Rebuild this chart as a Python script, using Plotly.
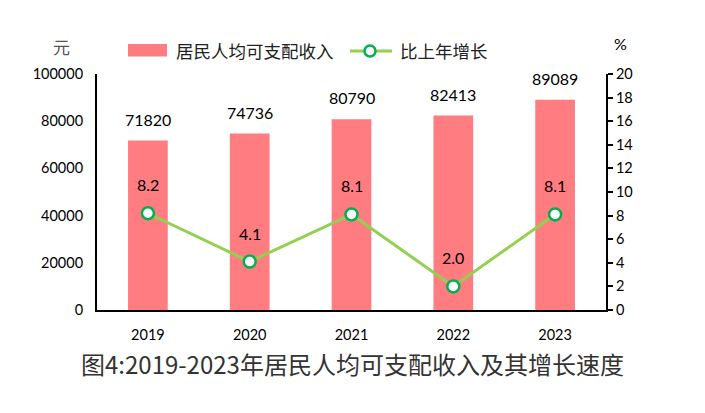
import plotly.graph_objects as go

years = ["2019", "2020", "2021", "2022", "2023"]
income = [71820, 74736, 80790, 82413, 89089]
growth = [8.2, 4.1, 8.1, 2.0, 8.1]
left_ticks = [0, 20000, 40000, 60000, 80000, 100000]
right_ticks = [0, 2, 4, 6, 8, 10, 12, 14, 16, 18, 20]
bar_name = "居民人均可支配收入"
line_name = "比上年增长"
title_text = "图4:2019-2023年居民人均可支配收入及其增长速度"

W, H = 705, 413
L, R, T, B = 97, 99, 74, 103
PW, PH = W - L - R, H - T - B


def px(x):
    return (x - L) / PW


def py(y):
    return (H - B - y) / PH


num_font = "Lato, Open Sans, sans-serif"
cjk = "Noto Sans CJK SC"
tick_font = dict(family=num_font, size=14.5, color="black")
BAR_COLOR = "#FF7C80"
LINE_COLOR = "#92D050"
MARK_COLOR = "#00B050"

fig = go.Figure()
fig.add_trace(go.Bar(
    x=years, y=income, name=bar_name,
    marker=dict(color=BAR_COLOR, line=dict(width=0)),
    showlegend=False,
))
fig.add_trace(go.Scatter(
    x=years, y=growth, name=line_name, yaxis="y2",
    mode="lines+markers",
    line=dict(color=LINE_COLOR, width=3),
    marker=dict(size=12, color="white", line=dict(color=MARK_COLOR, width=2.5)),
    showlegend=False, cliponaxis=False,
))

annotations = []
# category axis: annotations located by category index
for i, v in enumerate(income):
    annotations.append(dict(x=i, y=v, xref="x", yref="y", text=str(v),
                            showarrow=False, yanchor="middle", yshift=21.5,
                            font=dict(family=num_font, size=16, color="black")))
for i, v in enumerate(growth):
    annotations.append(dict(x=i, y=v, xref="x", yref="y2", text=f"{v:.1f}",
                            showarrow=False, yanchor="middle", yshift=28.5,
                            font=dict(family=num_font, size=16, color="black")))

# axis unit labels, legend texts, caption
annotations += [
    dict(text="元", x=px(61), y=py(46), xref="paper", yref="paper",
         showarrow=False, xanchor="center", yanchor="middle",
         font=dict(family=cjk, size=17, color="#555")),
    dict(text="%", x=px(620), y=py(44), xref="paper", yref="paper",
         showarrow=False, xanchor="center", yanchor="middle",
         font=dict(family=num_font, size=16, color="black")),
    dict(text=bar_name, x=px(174), y=py(50), xref="paper", yref="paper",
         showarrow=False, xanchor="left", yanchor="middle",
         font=dict(family=cjk, size=17.5, color="#222")),
    dict(text=line_name, x=px(398), y=py(50), xref="paper", yref="paper",
         showarrow=False, xanchor="left", yanchor="middle",
         font=dict(family=cjk, size=17.5, color="#222")),
    dict(text=title_text, x=px(352), y=py(363), xref="paper", yref="paper",
         showarrow=False, xanchor="center", yanchor="middle",
         font=dict(family=cjk, size=24, color="#333")),
]

shapes = [
    dict(type="rect", xref="paper", yref="paper", x0=px(128), x1=px(167),
         y0=py(56.5), y1=py(44), fillcolor=BAR_COLOR, line=dict(width=0)),
    dict(type="line", xref="paper", yref="paper", x0=px(350), x1=px(392),
         y0=py(51), y1=py(51), line=dict(color=LINE_COLOR, width=3)),
    dict(type="circle", xref="paper", yref="paper", x0=px(364.5), x1=px(375.5),
         y0=py(56.5), y1=py(45.5), fillcolor="white",
         line=dict(color=MARK_COLOR, width=2.5)),
]

fig.update_layout(
    width=W, height=H,
    margin=dict(l=L, r=R, t=T, b=B, autoexpand=False),
    plot_bgcolor="white", paper_bgcolor="white",
    bargap=0.61,
    showlegend=False,
    xaxis=dict(type="category", range=[-0.5, len(years) - 0.5],
               showline=True, linecolor="black", linewidth=2,
               ticks="", tickfont=dict(family=num_font, size=14.5, color="black"),
               showgrid=False, ticklabelstandoff=11),
    yaxis=dict(range=[0, 100000], tickvals=left_ticks, tickformat="d",
               showline=True, linecolor="black", linewidth=2, ticks="",
               showgrid=False, tickfont=tick_font, zeroline=False,
               ticklabelstandoff=9),
    yaxis2=dict(range=[0, 20], tickvals=right_ticks, overlaying="y", side="right",
                showline=True, linecolor="black", linewidth=2, ticks="outside",
                ticklen=5, tickwidth=2, tickcolor="black", showgrid=False,
                tickfont=tick_font, zeroline=False),
    annotations=annotations,
    shapes=shapes,
)

fig.write_html("out.html", config={"displayModeBar": False},
               post_script="document.body.style.margin='0';document.body.style.padding='0';")
